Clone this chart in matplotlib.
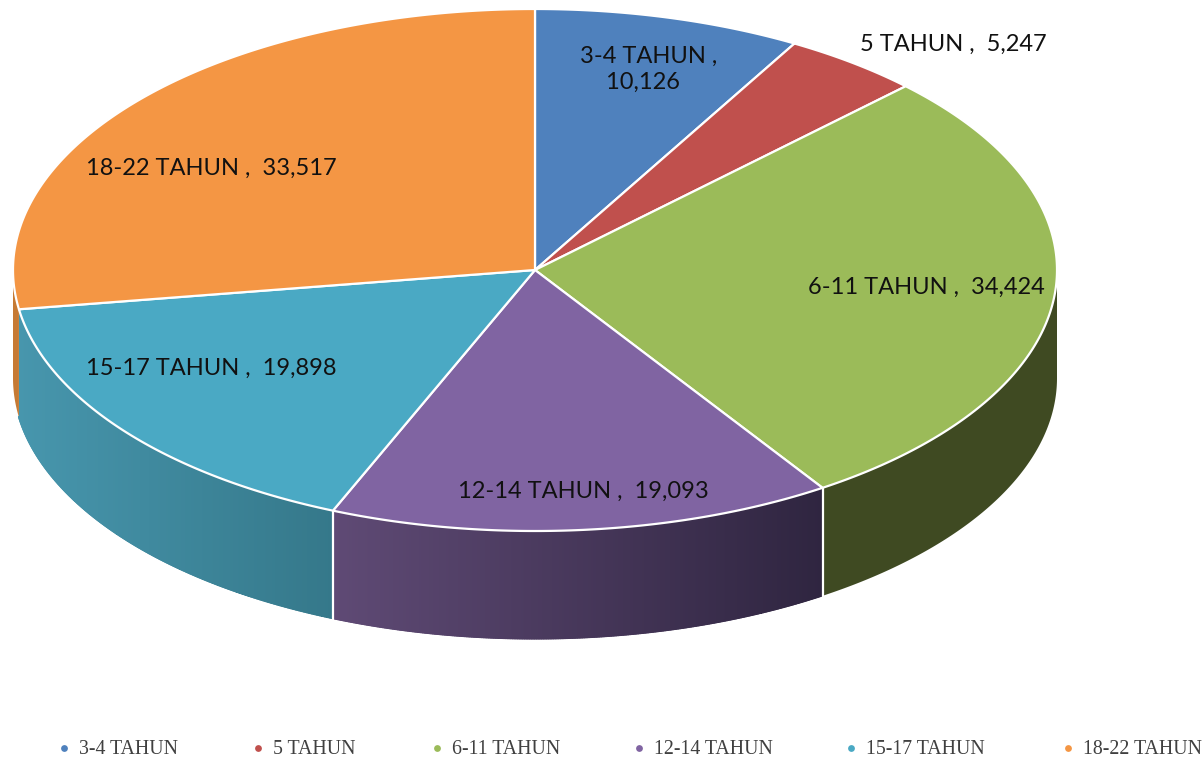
import numpy as np
from matplotlib import pyplot as plt
from matplotlib.collections import LineCollection
from matplotlib.colors import to_rgb

categories = ["3-4 TAHUN", "5 TAHUN", "6-11 TAHUN", "12-14 TAHUN", "15-17 TAHUN", "18-22 TAHUN"]
values = [10126, 5247, 34424, 19093, 19898, 33517]
top_colors = ["#4f81bd", "#c0504d", "#9bbb59", "#8064a2", "#4aa9c4", "#f49644"]
side_left = ["#3f6797", "#9a403e", "#3f4a22", "#5f4a75", "#4796ad", "#c67a34"]
side_right = ["#3f6797", "#9a403e", "#3f4a22", "#2f2540", "#35788a", "#c67a34"]

label_pos = [(649, 69), (953, 44), (926, 287), (583, 491), (211, 368), (211, 168)]
legend_x = [64, 258, 437, 639, 851, 1068]

cx, cy, rx, ry, depth = 535, 270, 522, 261, 108


def rim(t):
    return cx + rx * np.sin(t), cy - ry * np.cos(t)


fig = plt.figure(figsize=(12.04, 7.6), dpi=100)
ax = fig.add_axes([0, 0, 1, 1])
ax.set_xlim(0, 1204)
ax.set_ylim(760, 0)
ax.axis("off")

edges = np.radians(np.concatenate([[0], np.cumsum(values)]) / sum(values) * 360)

# side walls, only the front half of the rim shows
for i in range(len(values)):
    lo, hi = max(edges[i], np.pi / 2), min(edges[i + 1], 3 * np.pi / 2)
    if hi <= lo:
        continue
    ts = np.linspace(lo, hi, 300)
    xs, ys = rim(ts)
    ax.fill(
        np.concatenate([xs, xs[::-1]]), np.concatenate([ys, ys[::-1] + depth]),
        color=side_left[i], lw=0, zorder=2,
    )
    if side_left[i] == side_right[i]:
        continue
    x_first, x_last = min(xs), max(xs)
    c_l, c_r = np.array(to_rgb(side_left[i])), np.array(to_rgb(side_right[i]))
    frac = (((xs[:-1] + xs[1:]) / 2 - x_first) / (x_last - x_first)).reshape(-1, 1)
    cols = c_l + (c_r - c_l) * frac
    ax.pcolormesh(
        np.vstack([xs, xs]), np.vstack([ys, ys + depth]), cols.reshape(1, -1, 3),
        shading="flat", antialiased=False, zorder=2.5,
    )
    # mesh edge is jagged, smooth the bottom with a shaded line
    pts = np.column_stack([xs, ys + depth - 0.5])
    segs = np.stack([pts[:-1], pts[1:]], axis=1)
    ax.add_collection(LineCollection(segs, colors=cols, linewidths=1.5, capstyle="round", zorder=2.6))

# white seams between the walls
for e in edges[1:-1]:
    if np.pi / 2 < e < 3 * np.pi / 2 and e < np.radians(250):
        x0, y0 = rim(e)
        ax.plot([x0, x0], [y0, y0 + depth], color="white", lw=1.6, zorder=3)

# top face
for i in range(len(values)):
    ts = np.linspace(edges[i], edges[i + 1], 200)
    xs, ys = rim(ts)
    ax.fill(
        np.concatenate([[cx], xs]), np.concatenate([[cy], ys]),
        facecolor=top_colors[i], edgecolor="white", lw=1.6, joinstyle="round", zorder=4,
    )

for name, val, (lx, ly) in zip(categories, values, label_pos):
    if name == "3-4 TAHUN":
        txt = f"{name} ,\n{val:,}  "
    else:
        txt = f"{name} ,  {val:,}"
    ax.text(lx, ly, txt, ha="center", va="center", family="Lato", fontsize=17,
            color="#111111", linespacing=1.3, zorder=5)

for name, col, lx in zip(categories, top_colors, legend_x):
    ax.scatter([lx], [748], s=24, marker="o", color=col, linewidths=0, zorder=5)
    ax.text(lx + 15, 749.5, name, ha="left", va="center", family="Liberation Serif",
            fontsize=14.3, color="#404040", zorder=5)

fig.savefig("out.png", dpi=100)
